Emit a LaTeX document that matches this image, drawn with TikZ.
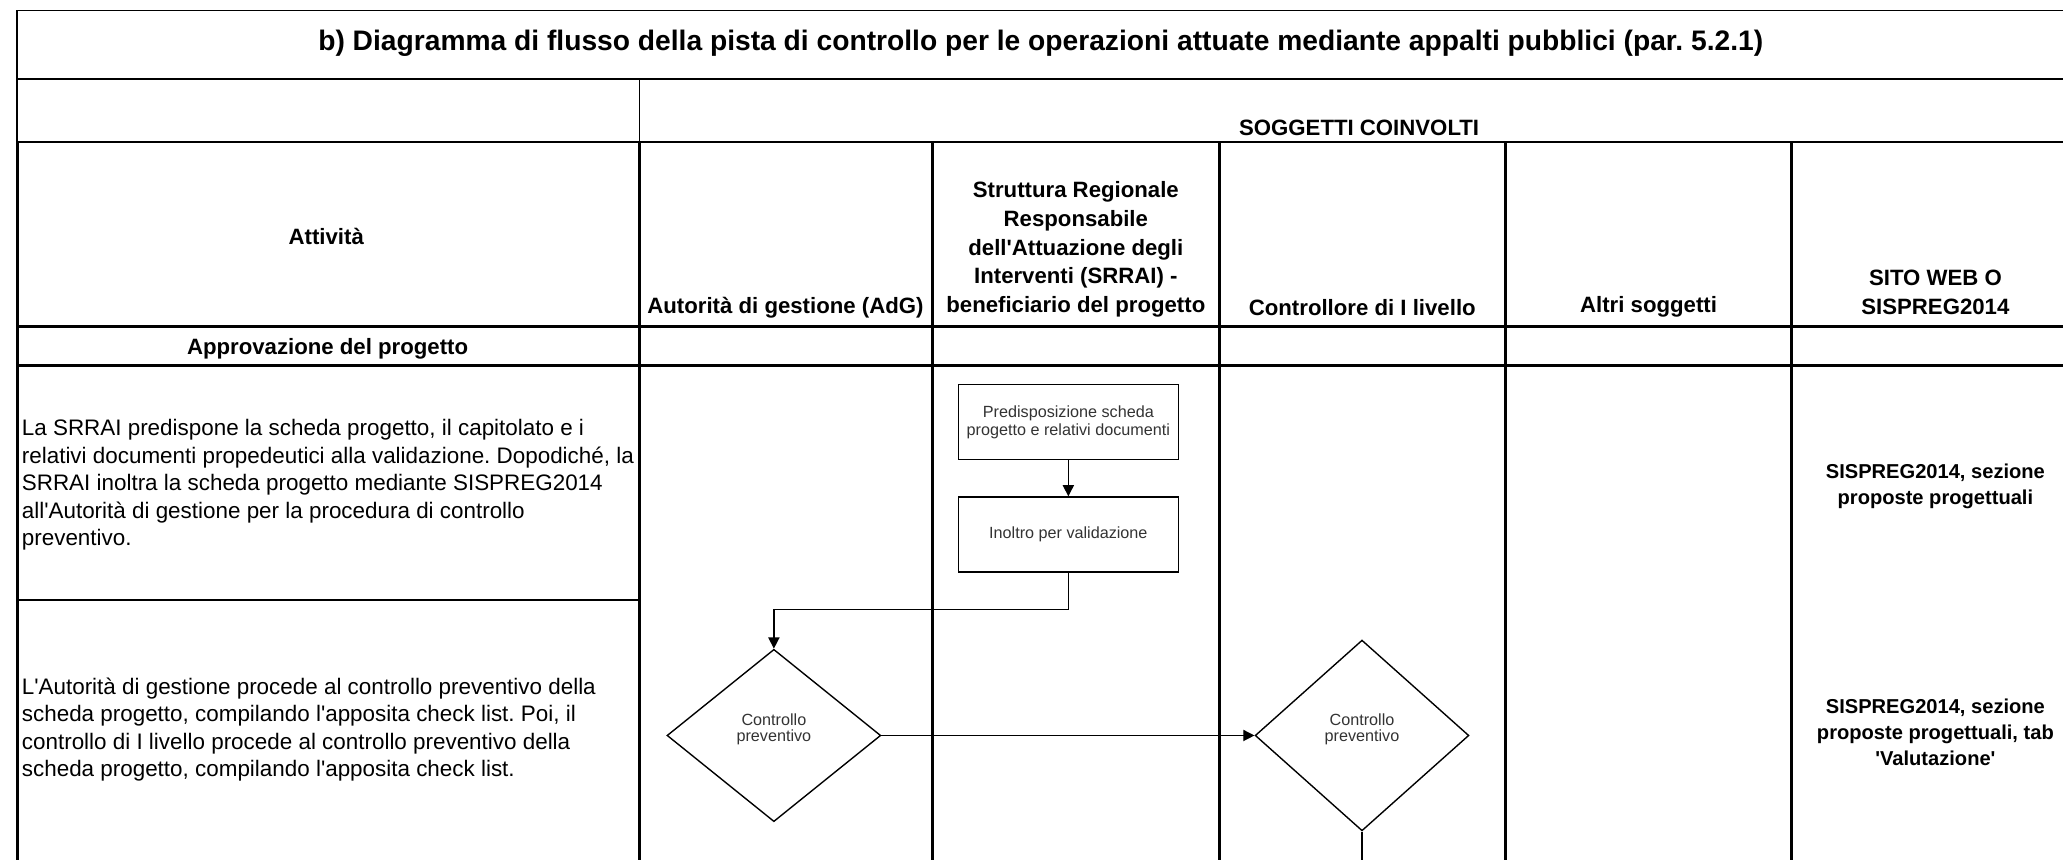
\documentclass[tikz,border=0pt]{standalone}
\usepackage{fontspec}
\setmainfont{Liberation Sans}
\usetikzlibrary{arrows.meta,positioning,shapes.geometric}
\frenchspacing

\begin{document}
\begin{tikzpicture}[x=0.02cm, y=-0.02cm,
		griglia/.style={line width=1.3pt},
		sottile/.style={line width=0.7pt},
		titolo/.style={font=\bfseries\fontsize{12.2}{14}\selectfont, inner sep=0pt},
		intest/.style={font=\bfseries\fontsize{9.6}{12.5}\selectfont, align=center, inner sep=0pt},
		testo/.style={font=\fontsize{9.7}{11.85}\selectfont, align=left, anchor=west, inner sep=0pt},
		sito/.style={font=\bfseries\fontsize{8.7}{11.2}\selectfont, align=center, inner sep=0pt},
		casella/.style={draw, line width=0.6pt, minimum width=3.34cm, minimum height=1.14cm, inner sep=0pt, align=center, text=black!80, font=\fontsize{7}{7.9}\selectfont},
		rombo/.style={draw, diamond, line width=0.6pt, minimum width=3.25cm, inner sep=0pt, align=center, text depth=6.5pt, text=black!80, font=\fontsize{7}{6.9}\selectfont},
		freccia/.style={line width=0.6pt, -{Triangle[length=1.7mm, width=1.7mm]}}]
		%%%%% START %%%%%
		
		\useasboundingbox (0,0) rectangle (1568,653);
		\clip (0,0) rectangle (1568,653);
		
		% cornice e titolo
		\draw[sottile] (13,108) -- (13,8) -- (1580,8);
		\draw[sottile] (13,60) -- (1580,60);
		\draw[sottile] (13,108) -- (1580,108);
		\draw[sottile] (486,60) -- (486,108);
		
		% griglia della tabella
		\draw[griglia] (13,108) -- (13,670);
		\foreach \xc in {486,709,926.6,1144,1362}
			\draw[griglia] (\xc,108) -- (\xc,670);
		\draw[griglia] (13,248) -- (1580,248);
		\draw[griglia] (13,278) -- (1580,278);
		\draw[line width=1pt] (13,456) -- (486,456);
		
		% intestazioni
		\node[titolo] (titolo) at (791,33) {b) Diagramma di flusso della pista di controllo per le operazioni attuate mediante appalti pubblici (par. 5.2.1)};
		\node[intest] (soggetti) at (1033,97.5) {SOGGETTI COINVOLTI};
		\node[intest] (attivita) at (248,180) {Attività};
		\node[intest] (adg) at (597,233.5) {Autorità di gestione (AdG)};
		\node[intest] (srrai) at (817.7,189.5) {Struttura Regionale\\Responsabile\\dell\textquotesingle Attuazione degli\\Interventi (SRRAI) -\\beneficiario del progetto};
		\node[intest] (controllore) at (1035.4,233.5) {Controllore di I livello};
		\node[intest] (altri) at (1253,233.5) {Altri soggetti};
		\node[intest] (sitoweb) at (1471,222.4) {SITO WEB O\\SISPREG2014};
		\node[intest] (approvazione) at (249,265) {Approvazione del progetto};
		
		% attivita
		\node[testo] (testouno) at (16.3,368.5) {La SRRAI predispone la scheda progetto, il capitolato e i\\relativi documenti propedeutici alla validazione. Dopodiché, la\\SRRAI inoltra la scheda progetto mediante SISPREG2014\\all\textquotesingle Autorità di gestione per la procedura di controllo\\preventivo.};
		\node[testo] (testodue) at (16.3,554.4) {L\textquotesingle Autorità di gestione procede al controllo preventivo della\\scheda progetto, compilando l\textquotesingle apposita check list. Poi, il\\controllo di I livello procede al controllo preventivo della\\scheda progetto, compilando l\textquotesingle apposita check list.};
		\node[sito] (sitouno) at (1471,369.8) {SISPREG2014, sezione\\proposte progettuali};
		\node[sito] (sitodue) at (1471,556.3) {SISPREG2014, sezione\\proposte progettuali, tab\\\textquotesingle Valutazione\textquotesingle};
		
		% flusso
		\node[casella] (predisp) at (812,320.7) {Predisposizione scheda\\progetto e relativi documenti};
		\node[casella, below=0.55cm of predisp] (inoltro) {Inoltro per validazione};
		\node[rombo, minimum height=2.62cm] (ctrladg) at (588.2,559) {Controllo\\preventivo};
		\node[rombo, minimum height=2.9cm] (ctrlliv) at (1035.2,559) {Controllo\\preventivo};
		\coordinate (gomito) at (588.2,463.2);
		\coordinate (giu) at (1035.2,670);
		
		\draw[freccia] (predisp) -- (inoltro);
		\draw[freccia] (inoltro.south) |- (gomito) -- (ctrladg.north);
		\draw[freccia] (ctrladg.east) -- (ctrlliv.west);
		\draw[line width=0.6pt] (ctrlliv.south) -- (giu);
		
		%%%%% END %%%%%
	\end{tikzpicture}
\end{document}
